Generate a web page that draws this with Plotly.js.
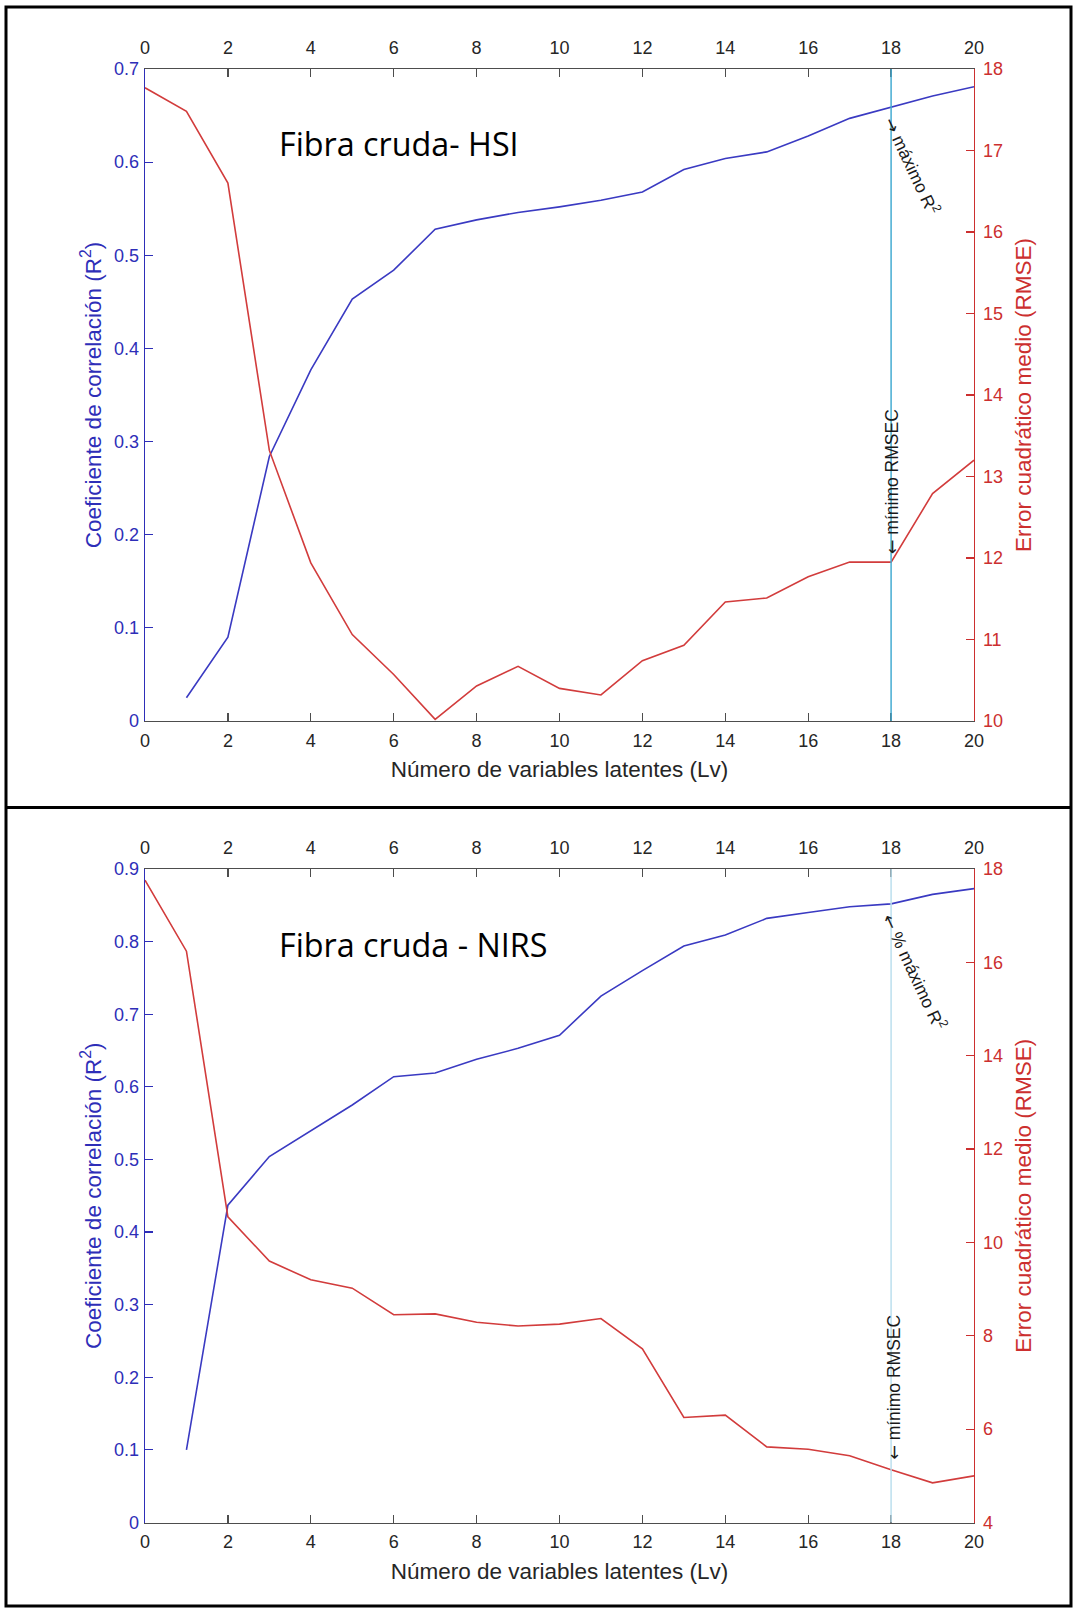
<!DOCTYPE html>
<html>
<head>
<meta charset="utf-8">
<script src="https://cdn.plot.ly/plotly-3.0.1.min.js"></script>
<style>
  html, body { margin: 0; padding: 0; background: #ffffff; }
  #chart { width: 1074px; height: 1609px; }
</style>
</head>
<body>
<div id="chart"></div>
<script>
// Número de variables latentes
const lvR2 = [1, 2, 3, 4, 5, 6, 7, 8, 9, 10, 11, 12, 13, 14, 15, 16, 17, 18, 19, 20];
const lvRmse = [0, 1, 2, 3, 4, 5, 6, 7, 8, 9, 10, 11, 12, 13, 14, 15, 16, 17, 18, 19, 20];
const xTicks = [0, 2, 4, 6, 8, 10, 12, 14, 16, 18, 20];

// Fibra cruda - HSI
const r2Hsi = [0.025, 0.090, 0.284, 0.377, 0.453, 0.484, 0.528, 0.538, 0.546, 0.552,
               0.559, 0.568, 0.592, 0.604, 0.611, 0.628, 0.647, 0.659, 0.671, 0.681];
const rmseHsi = [17.77, 17.48, 16.60, 13.32, 11.94, 11.06, 10.57, 10.02, 10.43, 10.67, 10.40,
                 10.32, 10.74, 10.93, 11.46, 11.51, 11.77, 11.95, 11.95, 12.79, 13.20];

// Fibra cruda - NIRS
const r2Nirs = [0.100, 0.437, 0.504, 0.539, 0.575, 0.614, 0.619, 0.638, 0.653, 0.671,
                0.725, 0.760, 0.794, 0.809, 0.832, 0.840, 0.848, 0.852, 0.865, 0.873];
const rmseNirs = [17.76, 16.24, 10.55, 9.60, 9.20, 9.02, 8.45, 8.47, 8.29, 8.21, 8.25,
                  8.37, 7.72, 6.25, 6.30, 5.62, 5.57, 5.43, 5.13, 4.85, 5.00];

// Selected number of latent variables
const selectedLv = 18;

const panelTitles = ["Fibra cruda- HSI", "Fibra cruda - NIRS"];
const xTitle = "Número de variables latentes (Lv)";
const yLeftTitle = "Coeficiente de correlación (R<sup>2</sup>)";
const yRightTitle = "Error cuadrático medio (RMSE)";

// ---- page geometry (pixels) ----
const W = 1074, H = 1609;
const plotLeft = 145, plotRight = 974;
const panels = [
  { top: 69, bottom: 721 },
  { top: 869, bottom: 1522.5 }
];
const px = v => v / W;
const py = v => 1 - v / H;

const BLUE = '#2e2eb8';
const BLUE_LINE = '#3a3ac2';
const RED = '#cc2f2f';
const RED_LINE = '#d23c3c';
const GREY = '#4d4d4d';
const TXT = '#262626';
const FONT = 'Arial, "Liberation Sans", Helvetica, sans-serif';
const TICK_SIZE = 18;
const TITLE_SIZE = 22.5;

function xAxisDef(anchor, side, overlay, showTitle) {
  const a = {
    domain: [px(plotLeft), px(plotRight)],
    anchor: anchor,
    side: side,
    range: [0, 20],
    tickvals: xTicks,
    ticks: 'inside',
    ticklen: 8,
    tickwidth: 1.2,
    tickcolor: GREY,
    showline: true,
    linecolor: GREY,
    linewidth: 1.3,
    showgrid: false,
    zeroline: false,
    tickfont: { family: FONT, size: TICK_SIZE, color: TXT },
    ticklabelstandoff: side === 'top' ? 7 : 3,
    fixedrange: true
  };
  if (overlay) a.overlaying = overlay;
  if (showTitle) {
    a.title = { text: xTitle, font: { family: FONT, size: TITLE_SIZE, color: TXT }, standoff: 11 };
  }
  return a;
}

function yAxisDef(panel, anchor, side, range, dtick, color, title, overlay) {
  const a = {
    domain: [py(panel.bottom), py(panel.top)],
    anchor: anchor,
    side: side,
    range: range,
    dtick: dtick,
    tick0: range[0],
    ticks: 'inside',
    ticklen: 8,
    tickwidth: 1.2,
    tickcolor: color,
    showline: true,
    linecolor: color,
    linewidth: 1.3,
    showgrid: false,
    zeroline: false,
    tickfont: { family: FONT, size: TICK_SIZE, color: color },
    ticklabelstandoff: side === 'left' ? 1 : 4,
    title: { text: title, font: { family: FONT, size: TITLE_SIZE, color: color },
             standoff: side === 'left' ? 6 : 13 },
    fixedrange: true
  };
  if (overlay) a.overlaying = overlay;
  return a;
}

const lineStyle = c => ({ color: c, width: 1.6 });

const traces = [
  // Panel 1 (HSI)
  { x: lvR2, y: r2Hsi, xaxis: 'x', yaxis: 'y', type: 'scatter', mode: 'lines',
    line: lineStyle(BLUE_LINE), name: 'R2 HSI', showlegend: false, hoverinfo: 'x+y' },
  { x: lvRmse, y: rmseHsi, xaxis: 'x', yaxis: 'y2', type: 'scatter', mode: 'lines',
    line: lineStyle(RED_LINE), name: 'RMSE HSI', showlegend: false, hoverinfo: 'x+y' },
  { x: [null], y: [null], xaxis: 'x2', yaxis: 'y', type: 'scatter', mode: 'lines',
    showlegend: false, hoverinfo: 'skip' },
  // Panel 2 (NIRS)
  { x: lvR2, y: r2Nirs, xaxis: 'x3', yaxis: 'y3', type: 'scatter', mode: 'lines',
    line: lineStyle(BLUE_LINE), name: 'R2 NIRS', showlegend: false, hoverinfo: 'x+y' },
  { x: lvRmse, y: rmseNirs, xaxis: 'x3', yaxis: 'y4', type: 'scatter', mode: 'lines',
    line: lineStyle(RED_LINE), name: 'RMSE NIRS', showlegend: false, hoverinfo: 'x+y' },
  { x: [null], y: [null], xaxis: 'x4', yaxis: 'y3', type: 'scatter', mode: 'lines',
    showlegend: false, hoverinfo: 'skip' }
];

const r2AtSel = arr => arr[lvR2.indexOf(selectedLv)];
const rmseAtSel = arr => arr[lvRmse.indexOf(selectedLv)];

const noteFont = { family: FONT, size: 17.5, color: '#1a1a1a' };
const arrow = ch => '<span style="font-family:\'DejaVu Sans\'">' + ch + '</span>';
const titleFont = { family: '"Open Sans", "Noto Sans", sans-serif', size: 32.3, color: '#000000' };

const annotations = [
  // panel titles
  { text: panelTitles[0], xref: 'paper', yref: 'paper', x: px(277), y: py(143),
    xanchor: 'left', yanchor: 'middle', showarrow: false, font: titleFont },
  { text: panelTitles[1], xref: 'paper', yref: 'paper', x: px(277), y: py(944),
    xanchor: 'left', yanchor: 'middle', showarrow: false, font: titleFont },

  // HSI markers
  { text: arrow('→') + ' máximo R<sup>2</sup>', xref: 'x', yref: 'y', x: selectedLv, y: r2AtSel(r2Hsi),
    textangle: 65, showarrow: false, xanchor: 'center', yanchor: 'middle',
    xshift: 21, yshift: -58, font: noteFont },
  { text: arrow('←') + ' mínimo RMSEC', xref: 'x', yref: 'y2', x: selectedLv, y: rmseAtSel(rmseHsi),
    textangle: -90, showarrow: false, xanchor: 'center', yanchor: 'middle',
    xshift: 1, yshift: 80, font: noteFont },

  // NIRS markers
  { text: arrow('←') + ' % máximo R<sup>2</sup>', xref: 'x3', yref: 'y3', x: selectedLv, y: r2AtSel(r2Nirs),
    textangle: 65, showarrow: false, xanchor: 'center', yanchor: 'middle',
    xshift: 24, yshift: -68, font: noteFont },
  { text: arrow('←') + ' mínimo RMSEC', xref: 'x3', yref: 'y4', x: selectedLv, y: rmseAtSel(rmseNirs),
    textangle: -90, showarrow: false, xanchor: 'center', yanchor: 'middle',
    xshift: 3, yshift: 82, font: noteFont }
];

const frameLine = { color: '#000000', width: 3 };
const shapes = [
  // selected Lv marker lines
  { type: 'line', xref: 'x', yref: 'y domain', x0: selectedLv, x1: selectedLv, y0: 0, y1: 1,
    line: { color: '#45acd2', width: 1.5 }, layer: 'above' },
  { type: 'line', xref: 'x3', yref: 'y3 domain', x0: selectedLv, x1: selectedLv, y0: 0, y1: 1,
    line: { color: '#bcdfee', width: 1.5 }, layer: 'above' },
  // outer frame and divider
  { type: 'rect', xref: 'paper', yref: 'paper', x0: px(6), x1: px(1071), y0: py(1606), y1: py(7),
    line: frameLine, fillcolor: 'rgba(0,0,0,0)' },
  { type: 'line', xref: 'paper', yref: 'paper', x0: px(6), x1: px(1071), y0: py(807.5), y1: py(807.5),
    line: frameLine }
];

const layout = {
  width: W,
  height: H,
  margin: { l: 0, r: 0, t: 0, b: 0, pad: 0 },
  paper_bgcolor: '#ffffff',
  plot_bgcolor: '#ffffff',
  font: { family: FONT, color: TXT },
  showlegend: false,

  xaxis: xAxisDef('y', 'bottom', null, true),
  xaxis2: xAxisDef('y', 'top', 'x', false),
  yaxis: yAxisDef(panels[0], 'x', 'left', [0, 0.7], 0.1, BLUE, yLeftTitle, null),
  yaxis2: yAxisDef(panels[0], 'x', 'right', [10, 18], 1, RED, yRightTitle, 'y'),

  xaxis3: xAxisDef('y3', 'bottom', null, true),
  xaxis4: xAxisDef('y3', 'top', 'x3', false),
  yaxis3: yAxisDef(panels[1], 'x3', 'left', [0, 0.9], 0.1, BLUE, yLeftTitle, null),
  yaxis4: yAxisDef(panels[1], 'x3', 'right', [4, 18], 2, RED, yRightTitle, 'y3'),

  annotations: annotations,
  shapes: shapes
};

Plotly.newPlot('chart', traces, layout, { displayModeBar: false, staticPlot: true });
</script>
</body>
</html>
